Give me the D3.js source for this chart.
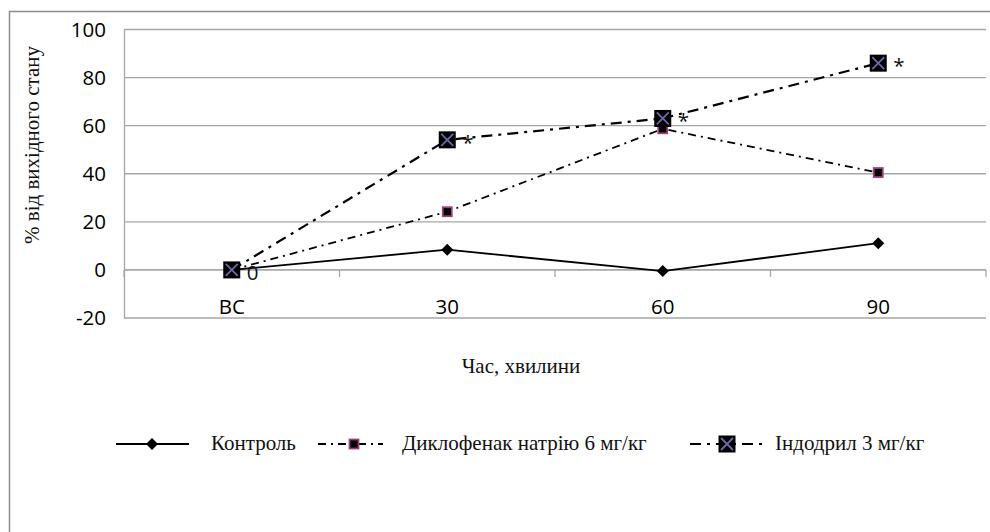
<!DOCTYPE html>
<html>
<head>
<meta charset="utf-8">
<script src="https://cdn.jsdelivr.net/npm/d3@7"></script>
<style>
  html, body { margin: 0; padding: 0; background: #fff; }
  svg { display: block; }
</style>
</head>
<body>
<svg id="chart" width="990" height="532"></svg>
<script>
// ---- data ----
const categories = ["ВС", "30", "60", "90"];
const control = [0, 8.4, -0.5, 11.1];
const diclofenac = [0, 24.2, 58.7, 40.5];
const indodryl = [0, 54.1, 63, 86];
const indodrylLabels = ["0", "*", "*", "*"];
const yTicks = [-20, 0, 20, 40, 60, 80, 100];
const seriesNames = ["Контроль", "Диклофенак натрію 6 мг/кг", "Індодрил 3 мг/кг"];
const yTitle = "% від вихідного стану";
const xTitle = "Час, хвилини";

// ---- layout ----
const svg = d3.select("#chart");
const plot = { left: 124, right: 986, top: 29.5, bottom: 318 };
const sansFont = "'Open Sans', 'DejaVu Sans', sans-serif";
const serifFont = "'Times New Roman', 'Liberation Serif', serif";
const gridColor = "#a6a6a6";
const tickSize = 20.5;
const serifSize = 21;

const x = d3.scaleBand().domain(categories).range([plot.left, plot.right]).padding(0);
const y = d3.scaleLinear().domain([-20, 100]).range([plot.bottom, plot.top]);
const cx = c => x(c) + x.bandwidth() / 2;

// outer border (top and left visible)
svg.append("path")
  .attr("d", "M9.5,532 L9.5,11.5 L990,11.5")
  .attr("fill", "none").attr("stroke", "#8c8c8c").attr("stroke-width", 1.5);

// gridlines
svg.append("g").selectAll("line").data(yTicks).join("line")
  .attr("x1", plot.left).attr("x2", plot.right)
  .attr("y1", d => y(d)).attr("y2", d => y(d))
  .attr("stroke", gridColor).attr("stroke-width", 1.3);

// y axis
const yAxis = d3.axisLeft(y).tickValues(yTicks).tickSize(0).tickPadding(18)
  .tickFormat(d => String(d));
const gy = svg.append("g").attr("transform", `translate(${plot.left},0)`).call(yAxis);
gy.select(".domain").attr("stroke", gridColor).attr("stroke-width", 1.3);
gy.selectAll("text").attr("font-family", sansFont).attr("font-size", tickSize).attr("fill", "#000");

// x axis at 0 with boundary ticks
const boundaries = categories.map(c => x(c)).concat([plot.right]);
const gx = svg.append("g");
gx.append("line").attr("x1", plot.left).attr("x2", plot.right)
  .attr("y1", y(0)).attr("y2", y(0)).attr("stroke", gridColor).attr("stroke-width", 1.3);
gx.selectAll("line.tk").data(boundaries).join("line").attr("class", "tk")
  .attr("x1", d => d).attr("x2", d => d)
  .attr("y1", y(0)).attr("y2", y(0) + 7)
  .attr("stroke", gridColor).attr("stroke-width", 1.3);
gx.selectAll("text").data(categories).join("text")
  .attr("x", d => cx(d)).attr("y", 313.5)
  .attr("text-anchor", "middle")
  .attr("font-family", sansFont).attr("font-size", tickSize).attr("fill", "#000")
  .text(d => d);

// axis titles
svg.append("text")
  .attr("transform", `translate(39,145) rotate(-90)`)
  .attr("text-anchor", "middle")
  .attr("font-family", serifFont).attr("font-size", serifSize).attr("fill", "#111")
  .text(yTitle);
svg.append("text")
  .attr("x", 521).attr("y", 373)
  .attr("text-anchor", "middle")
  .attr("font-family", serifFont).attr("font-size", serifSize).attr("fill", "#111")
  .text(xTitle);

// ---- series ----
const line = d3.line().x(d => cx(d.c)).y(d => y(d.v));
const toPts = arr => categories.map((c, i) => ({ c, v: arr[i] }));

const styles = [
  { data: control, dash: null, width: 1.8 },
  { data: diclofenac, dash: "8,5,2,5", width: 1.8 },
  { data: indodryl, dash: "11,6,3,6", width: 2.2 }
];

styles.forEach(s => {
  svg.append("path").datum(toPts(s.data))
    .attr("d", line).attr("fill", "none")
    .attr("stroke", "#000").attr("stroke-width", s.width)
    .attr("stroke-dasharray", s.dash);
});

// markers
function diamond(g, px, py) {
  g.append("path")
    .attr("d", `M${px},${py - 6}L${px + 6},${py}L${px},${py + 6}L${px - 6},${py}Z`)
    .attr("fill", "#000");
}
function pinkSquare(g, px, py) {
  g.append("rect").attr("x", px - 4.5).attr("y", py - 4.5).attr("width", 9).attr("height", 9)
    .attr("fill", "#000").attr("stroke", "#a0407a").attr("stroke-width", 1.8);
}
function crossSquare(g, px, py) {
  g.append("rect").attr("x", px - 8.5).attr("y", py - 8.5).attr("width", 17).attr("height", 17)
    .attr("fill", "#000");
  g.append("path")
    .attr("d", `M${px - 6},${py - 6}L${px + 6},${py + 6}M${px + 6},${py - 6}L${px - 6},${py + 6}`)
    .attr("stroke", "#6a6aa8").attr("stroke-width", 1.8);
}

const mg = svg.append("g");
toPts(control).forEach(d => diamond(mg, cx(d.c), y(d.v)));
toPts(diclofenac).forEach(d => pinkSquare(mg, cx(d.c), y(d.v)));
toPts(indodryl).forEach(d => crossSquare(mg, cx(d.c), y(d.v)));

// data labels for indodryl
svg.append("g").selectAll("text").data(toPts(indodryl)).join("text")
  .attr("x", d => cx(d.c) + 15).attr("y", d => y(d.v) + 10)
  .attr("font-family", sansFont).attr("font-size", tickSize).attr("fill", "#111")
  .text((d, i) => indodrylLabels[i]);

// ---- legend ----
const lg = svg.append("g");
const ly = 444;
const legendItems = [
  { x1: 116, x2: 189, mx: 152, tx: 211, dash: null, width: 1.8, marker: diamond },
  { x1: 318, x2: 383, mx: 354, tx: 402, dash: "8,5,2,5", width: 1.8, marker: pinkSquare },
  { x1: 690, x2: 762, mx: 727, tx: 775, dash: "11,6,3,6", width: 2.2, marker: crossSquare }
];
legendItems.forEach((it, i) => {
  lg.append("line").attr("x1", it.x1).attr("x2", it.x2).attr("y1", ly).attr("y2", ly)
    .attr("stroke", "#000").attr("stroke-width", it.width).attr("stroke-dasharray", it.dash);
  it.marker(lg, it.mx, ly);
  lg.append("text").attr("x", it.tx).attr("y", ly + 6)
    .attr("font-family", serifFont).attr("font-size", serifSize).attr("fill", "#111")
    .text(seriesNames[i]);
});
</script>
</body>
</html>
